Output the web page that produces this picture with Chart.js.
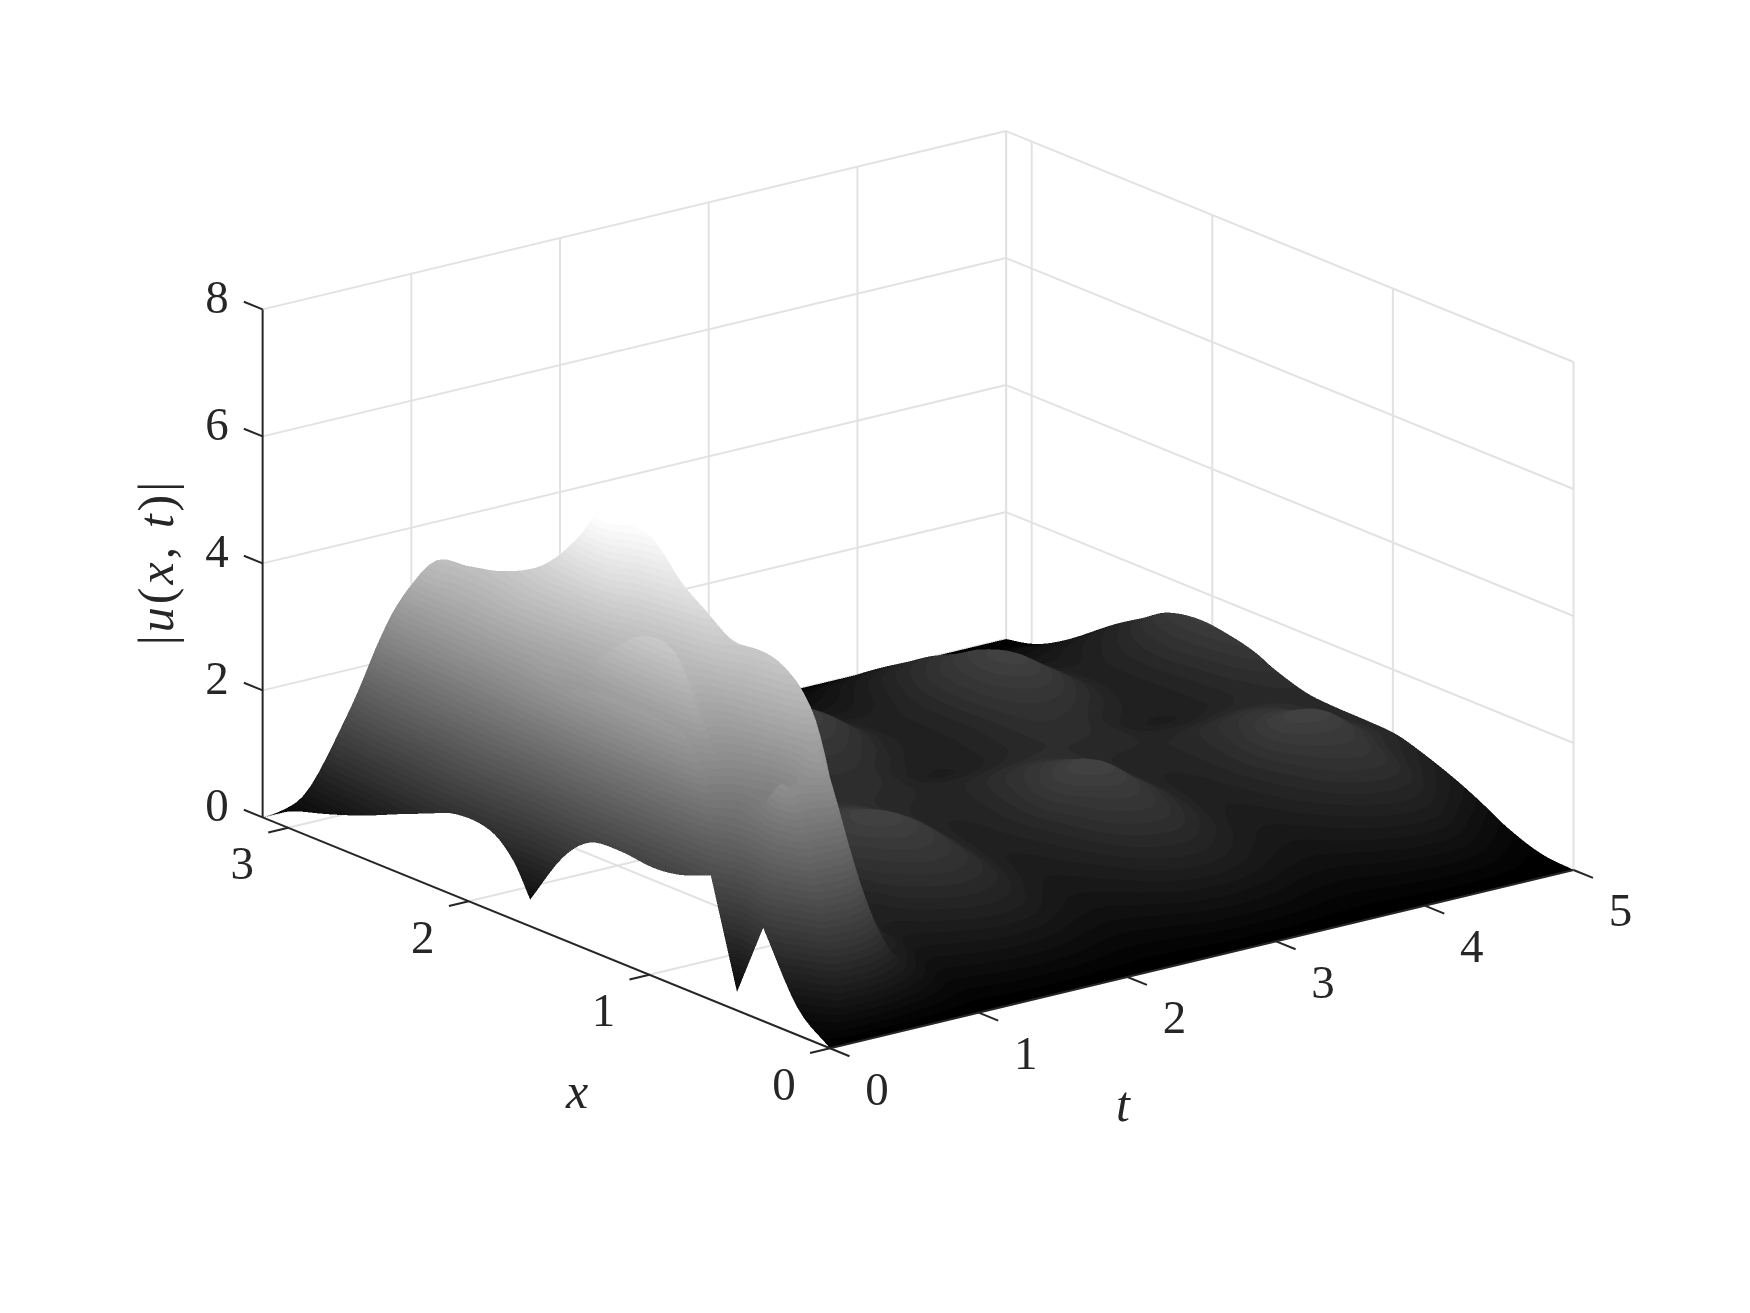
<!DOCTYPE html>
<html lang="en">
<head>
  <meta charset="UTF-8">
  <title>|u(x,t)| surface</title>
  <script src="https://cdn.jsdelivr.net/npm/chart.js"></script>
  <style>
    body { margin: 0; background: #fff; }
    canvas { display: block; }
  </style>
</head>
<body>
  <canvas id="surfaceChart" width="1750" height="1313"></canvas>
  <script>
    // values
    const xTicks = [0, 1, 2, 3];
    const tTicks = [0, 1, 2, 3, 4, 5];
    const zTicks = [0, 2, 4, 6, 8];
    const xNodes = [0, .18, .37, .515, .66, .83, .98, 1.16, 1.33, 1.48, 1.66, 1.755, 1.88, 2.07, 2.25, 2.39, 2.53, 2.66, 2.8, 2.99, 3.1416];
    const tNodes = [0, .03, .06, .1, .15, .2, .3, .4, .5, .65, .8, 1, 1.25, 1.5, 1.75, 2, 2.25, 2.5, 2.75, 3, 3.25, 3.5, 3.75, 4, 4.25, 4.5, 4.75, 5];
    // one row per tNodes entry, one column per xNodes entry
    const absU = [
      [0, .43, 1.47, .29, 1.96, 1.77, 1.71, 1.76, 1.7, 1.29, .42, .93, 1.25, 1.29, 1.09, .92, .74, .59, .45, .27, 0],
      [0, .7, 1.9, 1.2, 2.4, 3.2, 3.5, 3.3, 3.1, 2.8, 1.9, 2.0, 2.1, 2.0, 1.7, 1.42, 1.15, .95, .8, .33, 0],
      [0, .9, 2.3, 2.0, 2.7, 3.8, 4.0, 4.05, 4.0, 3.85, 3.4, 3.2, 2.9, 2.6, 2.2, 1.95, 1.7, 1.4, 1.15, .4, 0],
      [0, 1.35, 2.9, 2.7, 2.9, 3.65, 3.8, 3.85, 3.8, 3.75, 4.03, 3.85, 3.6, 3.3, 3.0, 2.75, 2.5, 2.1, 1.6, .48, 0],
      [0, 1.9, 3.55, 3.1, 3.0, 4.06, 4.95, 5.03, 4.65, 4.16, 4.15, 4.2, 4.27, 4.1, 3.9, 3.75, 3.6, 2.9, 1.9, .5, 0],
      [0, 1.95, 3.5, 3.2, 3.2, 3.85, 4.6, 4.75, 4.5, 4.5, 4.7, 4.8, 4.75, 4.52, 4.4, 4.6, 4.08, 3.2, 1.9, .5, 0],
      [0, 2.0, 3.57, 3.3, 3.6, 4.1, 4.6, 4.9, 5.3, 6.5, 5.9, 5.55, 5.22, 4.95, 4.82, 4.7, 3.9, 2.9, 1.6, .48, 0],
      [0, 1.89, 3.85, 4.0, 4.4, 4.8, 5.35, 5.78, 6.32, 6.2, 5.4, 5.1, 4.8, 4.5, 4.3, 3.9, 3.4, 2.5, 1.4, .45, 0],
      [0, 1.5, 3.1, 4.45, 4.95, 5.06, 4.9, 5.0, 5.2, 5.2, 4.7, 4.4, 4.2, 4.0, 3.8, 3.4, 2.9, 2.1, 1.2, .4, 0],
      [0, .9, 1.2, 3.0, 3.8, 4.3, 4.0, 3.9, 3.9, 3.8, 3.4, 3.2, 3.0, 2.9, 2.7, 2.4, 2.1, 1.55, .95, .35, 0],
      [0, .6, .95, 1.25, 2.4, 2.9, 2.8, 2.7, 2.6, 2.5, 2.3, 2.2, 2.1, 2.0, 1.9, 1.7, 1.5, 1.15, .75, .3, 0],
      [0, .33, .65, .82, .98, 1.13, 1.25, 1.23, 1.2, 1.15, 1.1, 1.13, 1.2, 1.3, 1.22, 1.06, .9, .72, .52, .22, 0],
      [0, .38, .72, .95, 1.15, 1.32, 1.45, 1.37, 1.25, 1.1, .95, .97, 1.0, 1.05, 1.0, .88, .75, .6, .44, .18, 0],
      [0, .43, .83, 1.08, 1.3, 1.52, 1.72, 1.55, 1.35, 1.15, .95, .93, .9, .88, .87, .77, .66, .53, .38, .16, 0],
      [0, .4, .78, 1.0, 1.2, 1.38, 1.5, 1.42, 1.3, 1.17, 1.05, 1.02, .98, .95, .93, .82, .7, .56, .41, .17, 0],
      [0, .3, .6, .75, .88, .98, 1.05, 1.08, 1.1, 1.15, 1.2, 1.23, 1.27, 1.3, 1.22, 1.07, .92, .73, .53, .22, 0],
      [0, .25, .5, .63, .72, .8, .85, .9, .98, 1.07, 1.18, 1.28, 1.42, 1.66, 1.55, 1.32, 1.12, .88, .64, .27, 0],
      [0, .3, .6, .75, .88, .98, 1.05, 1.02, .98, .96, .95, 1.05, 1.22, 1.45, 1.38, 1.22, 1.03, .82, .6, .25, 0],
      [0, .4, .78, 1.0, 1.2, 1.38, 1.55, 1.35, 1.18, 1.0, .8, .84, .93, 1.05, 1.0, .88, .76, .61, .45, .19, 0],
      [0, .42, .82, 1.06, 1.28, 1.5, 1.7, 1.52, 1.28, 1.08, .88, .87, .87, .87, .86, .76, .65, .52, .38, .16, 0],
      [0, .36, .7, .88, 1.05, 1.2, 1.3, 1.27, 1.2, 1.13, 1.05, 1.03, 1.0, 1.0, .96, .85, .72, .58, .43, .18, 0],
      [0, .27, .55, .7, .8, .9, .95, .98, 1.02, 1.1, 1.2, 1.25, 1.32, 1.4, 1.33, 1.17, 1.0, .8, .58, .24, 0],
      [0, .25, .5, .63, .74, .82, .87, .92, .98, 1.05, 1.12, 1.22, 1.4, 1.68, 1.57, 1.34, 1.14, .9, .65, .27, 0],
      [0, .32, .62, .8, .96, 1.08, 1.15, 1.1, 1.05, .97, .9, .98, 1.15, 1.35, 1.28, 1.13, .96, .77, .56, .24, 0],
      [0, .38, .75, 1.0, 1.22, 1.42, 1.62, 1.4, 1.22, 1.0, .8, .83, .9, .98, .95, .84, .72, .58, .43, .18, 0],
      [0, .36, .75, 1.02, 1.26, 1.45, 1.66, 1.45, 1.28, 1.08, .88, .87, .87, .88, .87, .77, .66, .52, .38, .15, 0],
      [0, .2, .5, .75, .95, 1.12, 1.25, 1.2, 1.15, 1.1, 1.05, 1.07, 1.1, 1.15, 1.07, .93, .78, .6, .42, .14, 0],
      [0, .05, .25, .48, .68, .87, 1.0, 1.03, 1.04, 1.08, 1.25, 1.38, 1.48, 1.55, 1.45, 1.2, .95, .68, .37, .1, 0]
    ];

    const xMax = Math.PI, tMax = 5, zMax = 8;
    const colorTop = 6.5;    // |u| that maps to white
    const grayLevels = 64;
    const meshRefine = 5;    // painted facets per read cell
    const superSample = 2;
    const gridColor = '#e2e2e2';
    const axisColor = '#262626';
    const serif = '"Liberation Serif", serif';

    // orthographic view, MATLAB style
    function project(x, t, z) {
      return { x: 830 + 148.7 * t - 180.6 * x, y: 1048.3 - 35.66 * t - 73.5 * x - 63.5 * z };
    }

    function lineDs(a, b, color, width, order) {
      return {
        data: [project(a[0], a[1], a[2]), project(b[0], b[1], b[2])],
        showLine: true, borderColor: color, borderWidth: width,
        pointRadius: 0, order: order, fill: false
      };
    }

    const datasets = [];

    // back walls and floor
    zTicks.forEach(z => {
      datasets.push(lineDs([xMax, 0, z], [xMax, tMax, z], gridColor, 2, 3));
      datasets.push(lineDs([xMax, tMax, z], [0, tMax, z], gridColor, 2, 3));
    });
    tTicks.slice(1).forEach(t => {
      datasets.push(lineDs([xMax, t, 0], [xMax, t, zMax], gridColor, 2, 3));
      datasets.push(lineDs([0, t, 0], [xMax, t, 0], gridColor, 2, 3));
    });
    xTicks.forEach(x => {
      datasets.push(lineDs([x, tMax, 0], [x, tMax, zMax], gridColor, 2, 3));
      datasets.push(lineDs([x, 0, 0], [x, tMax, 0], gridColor, 2, 3));
    });
    datasets.push(lineDs([xMax, tMax, 0], [xMax, tMax, zMax], gridColor, 2, 3));

    // surface nodes, the facets are painted by the plugin below
    const surfacePoints = [];
    tNodes.forEach((t, j) => xNodes.forEach((x, i) => surfacePoints.push(project(x, t, absU[j][i]))));
    datasets.push({ label: '|u(x,t)|', data: surfacePoints, pointRadius: 0, showLine: false, order: 2 });

    // axes and ticks
    datasets.push(lineDs([xMax, 0, 0], [xMax, 0, zMax], axisColor, 2, 1));
    datasets.push(lineDs([xMax, 0, 0], [0, 0, 0], axisColor, 2, 1));
    datasets.push(lineDs([0, 0, 0], [0, tMax, 0], axisColor, 2, 1));
    zTicks.forEach(z => datasets.push(lineDs([xMax, 0, z], [xMax + .104, 0, z], axisColor, 2, 1)));
    xTicks.forEach(x => datasets.push(lineDs([x, 0, 0], [x, -.134, 0], axisColor, 2, 1)));
    tTicks.forEach(t => datasets.push(lineDs([0, t, 0], [-.108, t, 0], axisColor, 2, 1)));

    // spline through read values, like a line's tension, only for painting
    // sharp dips and knees keep their corner (|u| touching zero)
    function splineAlong(coords, vals, sub, knee) {
      const n = vals.length, out = [];
      const left = [], right = [];
      for (let i = 0; i < n; i++) {
        if (i === 0 || i === n - 1) {
          const a = i === 0 ? 0 : n - 2;
          left[i] = right[i] = (vals[a + 1] - vals[a]) / (coords[a + 1] - coords[a]);
          continue;
        }
        const sL = (vals[i] - vals[i - 1]) / (coords[i] - coords[i - 1]);
        const sR = (vals[i + 1] - vals[i]) / (coords[i + 1] - coords[i]);
        const dip = vals[i] < vals[i - 1] - .5 && vals[i] < vals[i + 1] - .5;
        if (dip || Math.abs(sR - sL) > knee) {
          left[i] = sL;
          right[i] = sR;
        } else {
          left[i] = right[i] = (vals[i + 1] - vals[i - 1]) / (coords[i + 1] - coords[i - 1]);
        }
      }
      for (let i = 0; i < n - 1; i++) {
        const h = coords[i + 1] - coords[i];
        for (let k = 0; k < sub; k++) {
          const s = k / sub, s2 = s * s, s3 = s2 * s;
          const v = (2 * s3 - 3 * s2 + 1) * vals[i] + (s3 - 2 * s2 + s) * h * right[i]
            + (3 * s2 - 2 * s3) * vals[i + 1] + (s3 - s2) * h * left[i + 1];
          out.push(Math.max(0, v));
        }
      }
      out.push(vals[n - 1]);
      return out;
    }

    function refineCoords(coords, sub) {
      const out = [];
      for (let i = 0; i < coords.length - 1; i++) {
        for (let k = 0; k < sub; k++) out.push(coords[i] + (coords[i + 1] - coords[i]) * k / sub);
      }
      out.push(coords[coords.length - 1]);
      return out;
    }

    const surfacePlugin = {
      id: 'surfacePainter',
      afterDatasetDraw(chart, args) {
        if (chart.data.datasets[args.index].label !== '|u(x,t)|') return;
        const ctx = chart.ctx;
        const sx = chart.scales.x, sy = chart.scales.y;
        const ss = superSample;
        const W = chart.width * ss, H = chart.height * ss;
        const off = document.createElement('canvas');
        off.width = W;
        off.height = H;
        const offCtx = off.getContext('2d');
        const img = offCtx.createImageData(W, H);
        const buf = img.data;

        const fineX = refineCoords(xNodes, meshRefine);
        const fineT = refineCoords(tNodes, meshRefine);
        const rowsX = absU.map(row => splineAlong(xNodes, row, meshRefine, 12));
        const fine = fineT.map(() => []);
        fineX.forEach((x, i) => {
          const col = splineAlong(tNodes, rowsX.map(r => r[i]), meshRefine, Infinity);
          col.forEach((v, j) => { fine[j][i] = v; });
        });
        const at = (j, i) => {
          const p = project(fineX[i], fineT[j], fine[j][i]);
          return { x: sx.getPixelForValue(p.x) * ss, y: sy.getPixelForValue(p.y) * ss, z: fine[j][i] };
        };

        // one triangle, gray from the banded colormap per pixel
        function tri(a, b, c) {
          const d = (b.x - a.x) * (c.y - a.y) - (c.x - a.x) * (b.y - a.y);
          if (Math.abs(d) < 1e-6) return;
          const x0 = Math.max(0, Math.floor(Math.min(a.x, b.x, c.x)));
          const x1 = Math.min(W - 1, Math.ceil(Math.max(a.x, b.x, c.x)));
          const y0 = Math.max(0, Math.floor(Math.min(a.y, b.y, c.y)));
          const y1 = Math.min(H - 1, Math.ceil(Math.max(a.y, b.y, c.y)));
          for (let py = y0; py <= y1; py++) {
            for (let px = x0; px <= x1; px++) {
              const qx = px + .5 - a.x, qy = py + .5 - a.y;
              const wb = (qx * (c.y - a.y) - (c.x - a.x) * qy) / d;
              const wc = ((b.x - a.x) * qy - qx * (b.y - a.y)) / d;
              const wa = 1 - wb - wc;
              if (wa < -1e-3 || wb < -1e-3 || wc < -1e-3) continue;
              const z = wa * a.z + wb * b.z + wc * c.z;
              const level = Math.min(grayLevels - 1, Math.floor(z / colorTop * grayLevels));
              const v = Math.round(level / (grayLevels - 1) * 255);
              const o = (py * W + px) * 4;
              buf[o] = v; buf[o + 1] = v; buf[o + 2] = v; buf[o + 3] = 255;
            }
          }
        }

        // far corner first
        for (let j = fineT.length - 2; j >= 0; j--) {
          for (let i = fineX.length - 2; i >= 0; i--) {
            const p00 = at(j, i), p10 = at(j, i + 1), p01 = at(j + 1, i), p11 = at(j + 1, i + 1);
            tri(p11, p10, p01);
            tri(p00, p10, p01);
          }
        }
        offCtx.putImageData(img, 0, 0);
        ctx.save();
        ctx.imageSmoothingEnabled = true;
        ctx.imageSmoothingQuality = 'high';
        ctx.drawImage(off, 0, 0, chart.width, chart.height);
        ctx.restore();
      },
      afterDraw(chart) {
        const ctx = chart.ctx;
        const sx = chart.scales.x, sy = chart.scales.y;
        ctx.save();
        ctx.fillStyle = axisColor;
        ctx.textAlign = 'center';
        ctx.textBaseline = 'middle';
        ctx.font = '47px ' + serif;
        zTicks.forEach(z => {
          const p = project(xMax, 0, z);
          ctx.fillText(String(z), sx.getPixelForValue(217), sy.getPixelForValue(p.y - 9));
        });
        xTicks.forEach(x => {
          const p = project(x, 0, 0);
          ctx.fillText(String(x), sx.getPixelForValue(p.x - 46), sy.getPixelForValue(p.y + 39));
        });
        tTicks.forEach(t => {
          const p = project(0, t, 0);
          ctx.fillText(String(t), sx.getPixelForValue(p.x + 47), sy.getPixelForValue(p.y + 44));
        });
        ctx.font = 'italic 50px ' + serif;
        ctx.fillText('x', sx.getPixelForValue(577), sy.getPixelForValue(1095));
        ctx.fillText('t', sx.getPixelForValue(1123), sy.getPixelForValue(1108));

        // rotated z label, mixed upright and italic pieces
        const pieces = [['|', 0], ['u', 1], ['(', 0], ['x', 1], [',', 0], [' ', 0], ['t', 1], [')', 0], ['|', 0]];
        const fontOf = it => (it ? 'italic ' : '') + '50px ' + serif;
        const gap = 3;
        let total = 0;
        pieces.forEach(pc => { ctx.font = fontOf(pc[1]); total += ctx.measureText(pc[0]).width + gap; });
        ctx.translate(sx.getPixelForValue(160), sy.getPixelForValue(562));
        ctx.rotate(-Math.PI / 2);
        ctx.textAlign = 'left';
        let pos = -total / 2;
        pieces.forEach(pc => {
          ctx.font = fontOf(pc[1]);
          ctx.fillText(pc[0], pos, 0);
          pos += ctx.measureText(pc[0]).width + gap;
        });
        ctx.restore();
      }
    };

    new Chart(document.getElementById('surfaceChart'), {
      type: 'scatter',
      data: { datasets: datasets },
      plugins: [surfacePlugin],
      options: {
        responsive: false,
        animation: false,
        events: [],
        layout: { padding: 0 },
        plugins: { legend: { display: false }, tooltip: { enabled: false } },
        scales: {
          x: { type: 'linear', min: 0, max: 1750, display: false },
          y: { type: 'linear', min: 0, max: 1313, reverse: true, display: false }
        }
      }
    });
  </script>
</body>
</html>
